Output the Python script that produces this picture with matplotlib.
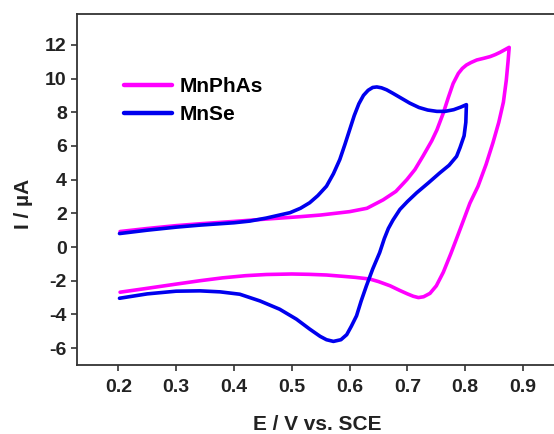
import matplotlib
matplotlib.use("Agg")
import matplotlib.pyplot as plt

# MnPhAs cyclic voltammogram: forward scan then reverse scan
phas_fwd_e = [0.203, 0.25, 0.30, 0.341, 0.40, 0.456, 0.514, 0.55, 0.60, 0.63,
              0.658, 0.68, 0.699, 0.713, 0.727, 0.742, 0.751, 0.762, 0.771, 0.779,
              0.788, 0.795, 0.802, 0.81, 0.82, 0.832, 0.843, 0.852, 0.86, 0.868, 0.876]
phas_fwd_i = [0.92, 1.1, 1.27, 1.38, 1.52, 1.66, 1.8, 1.9, 2.1, 2.3,
              2.8, 3.3, 4.0, 4.6, 5.4, 6.3, 6.95, 7.95, 8.9, 9.7,
              10.3, 10.6, 10.8, 10.95, 11.1, 11.2, 11.3, 11.42, 11.55, 11.7, 11.85]
phas_rev_e = [0.876, 0.874, 0.871, 0.866, 0.858, 0.848, 0.836, 0.822, 0.808, 0.796,
              0.785, 0.775, 0.762, 0.75, 0.739, 0.728, 0.719, 0.71, 0.70, 0.687,
              0.67, 0.65, 0.635, 0.61, 0.589, 0.56, 0.53, 0.50, 0.456, 0.42,
              0.38, 0.341, 0.30, 0.25, 0.203]
phas_rev_i = [11.85, 11.0, 9.9, 8.6, 7.4, 6.2, 4.9, 3.6, 2.6, 1.5,
              0.5, -0.4, -1.5, -2.3, -2.75, -2.95, -3.0, -2.92, -2.78, -2.58,
              -2.3, -2.05, -1.9, -1.8, -1.74, -1.66, -1.62, -1.6, -1.63, -1.7,
              -1.83, -2.0, -2.2, -2.45, -2.68]

# MnSe cyclic voltammogram
se_fwd_e = [0.202, 0.25, 0.30, 0.341, 0.40, 0.4275, 0.456, 0.479, 0.497, 0.515,
            0.531, 0.545, 0.56, 0.572, 0.583, 0.592, 0.60, 0.608, 0.616, 0.624,
            0.632, 0.64, 0.647, 0.655, 0.664, 0.675, 0.69, 0.704, 0.72, 0.735,
            0.751, 0.765, 0.78, 0.792, 0.802]
se_fwd_i = [0.8, 1.0, 1.18, 1.3, 1.44, 1.54, 1.72, 1.9, 2.04, 2.3,
            2.63, 3.05, 3.61, 4.35, 5.19, 6.1, 6.95, 7.8, 8.5, 9.0,
            9.3, 9.47, 9.5, 9.45, 9.33, 9.12, 8.82, 8.54, 8.28, 8.13,
            8.05, 8.05, 8.15, 8.3, 8.45]
se_rev_e = [0.802, 0.801, 0.798, 0.791, 0.785, 0.772, 0.756, 0.736, 0.716, 0.70,
            0.687, 0.675, 0.667, 0.66, 0.652, 0.64, 0.629, 0.62, 0.612, 0.603,
            0.595, 0.585, 0.572, 0.56, 0.549, 0.531, 0.508, 0.479, 0.445, 0.41,
            0.376, 0.341, 0.30, 0.25, 0.202]
se_rev_i = [8.45, 7.4, 6.6, 5.9, 5.38, 4.85, 4.4, 3.8, 3.22, 2.7,
            2.23, 1.6, 1.1, 0.5, -0.33, -1.3, -2.31, -3.2, -4.08, -4.7,
            -5.2, -5.5, -5.6, -5.5, -5.3, -4.87, -4.28, -3.69, -3.2, -2.8,
            -2.66, -2.6, -2.62, -2.78, -3.04]

x_ticks = [0.2, 0.3, 0.4, 0.5, 0.6, 0.7, 0.8, 0.9]
y_ticks = [-6, -4, -2, 0, 2, 4, 6, 8, 10, 12]

plt.rcParams['font.family'] = ['Liberation Sans', 'DejaVu Sans']
plt.rcParams['font.weight'] = 'bold'

fig = plt.figure(figsize=(5.54, 4.34), dpi=100)
# right edge of the frame runs just past the canvas
ax = fig.add_axes([0.1395, 0.159, 0.8677, 0.8088])

ax.plot(phas_fwd_e + phas_rev_e, phas_fwd_i + phas_rev_i,
        color='#ff00ff', lw=2.6, label='MnPhAs', solid_capstyle='round')
ax.plot(se_fwd_e + se_rev_e, se_fwd_i + se_rev_i,
        color='#0000ee', lw=2.6, label='MnSe', solid_capstyle='round')

ax.set_xlim(0.129, 0.9604)
ax.set_ylim(-7, 13.83)
ax.set_xticks(x_ticks)
ax.set_xticklabels([f'{v:.1f}' for v in x_ticks])
ax.set_yticks(y_ticks)
ax.set_yticklabels([str(v) for v in y_ticks])

for side in ['left', 'bottom', 'top']:
    ax.spines[side].set_linewidth(1.3)
    ax.spines[side].set_color('#333333')
ax.spines['right'].set_visible(False)
ax.tick_params(direction='out', length=4, width=1.2, color='#333333',
               labelsize=14, labelcolor='#222222')
ax.tick_params(axis='x', pad=6)
ax.tick_params(axis='y', pad=3.5)
for lbl in ax.get_xticklabels() + ax.get_yticklabels():
    lbl.set_fontweight('bold')

ax.set_xlabel('E / V vs. SCE', fontsize=15, fontweight='bold', color='#222222')
ax.set_ylabel('I / µA', fontsize=15, fontweight='bold', color='#222222')
ax.xaxis.set_label_coords(0.5, -0.142)
ax.yaxis.set_label_coords(-0.092, 0.459)

leg = ax.legend(loc='upper left', bbox_to_anchor=(0.097, 0.82), frameon=False,
                handlelength=2.3, handletextpad=0.38, borderpad=0, borderaxespad=0,
                labelspacing=0.44, prop={'size': 15, 'weight': 'bold'})
for line in leg.get_lines():
    line.set_linewidth(3.2)

fig.savefig('out.png', dpi=100)
